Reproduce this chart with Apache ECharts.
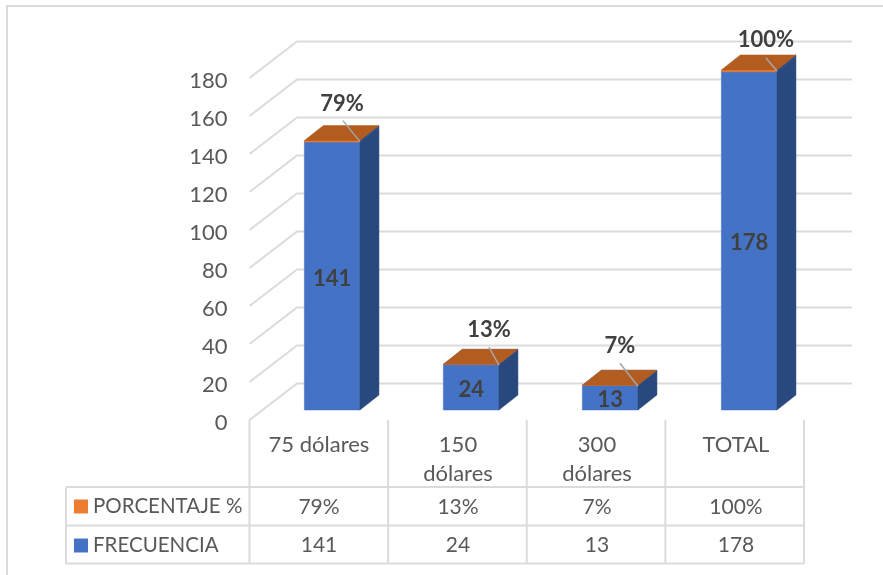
<!DOCTYPE html>
<html><head><meta charset="utf-8">
<style>html,body{margin:0;padding:0;background:#fff}#c{width:883px;height:575px}</style>
<script src="https://cdn.jsdelivr.net/npm/echarts@6/dist/echarts.min.js"></script>
</head><body><div id="c"></div>
<script>
const categories = ['75 dólares', '150\ndólares', '300\ndólares', 'TOTAL'];
const frecuencia = [141, 24, 13, 178];
const porcentaje = [79, 13, 7, 100];
const yTicks = [0, 20, 40, 60, 80, 100, 120, 140, 160, 180];
const rowPorcentajeName = 'PORCENTAJE %';
const rowFrecuenciaName = 'FRECUENCIA';

// layout / style constants
const FONT = 'Lato';
const GRID = {left: 249.5, top: 78, width: 556, height: 342};
const WALL = {dx: 47.5, dy: -36.5};
const BAR = {dx: 19, dy: -15, inX: 13.15, inY: -10, ratio: 0.4};
const TABLE = {left: 66, right: 804, rows: [487, 525.5, 563.5]};
const GRAY = '#DBDBDB';
const TXT = '#595959';
const DARK = '#404040';
// percent-label placement, relative to the bar's front top right corner
const leaderStart = [[-17, -21], [-10, -18], [-18, -23], [-11, -13]];
const labelCenter = [[-18, -38], [-10, -35], [-18, -40], [-11, -31]];

function box(api, xVal, from, to) {
  const w = api.size([1, 0])[0] * BAR.ratio;
  const c = api.coord([xVal, from]);
  const t = api.coord([xVal, to]);
  const x0 = c[0] + BAR.inX - w / 2, x1 = x0 + w;
  return {x0, x1, yb: c[1] + BAR.inY, yt: t[1] + BAR.inY};
}
function poly(points, fill) {
  return {type: 'polygon', shape: {points}, style: {fill, stroke: fill, lineWidth: 0.5}};
}
function prism(b, front, top, side) {
  return [
    poly([[b.x0, b.yb], [b.x1, b.yb], [b.x1, b.yt], [b.x0, b.yt]], front),
    poly([[b.x1, b.yb], [b.x1 + BAR.dx, b.yb + BAR.dy], [b.x1 + BAR.dx, b.yt + BAR.dy], [b.x1, b.yt]], side),
    poly([[b.x0, b.yt], [b.x1, b.yt], [b.x1 + BAR.dx, b.yt + BAR.dy], [b.x0 + BAR.dx, b.yt + BAR.dy]], top)
  ];
}

const tableLines = [];
const line = (x1, y1, x2, y2) => tableLines.push({
  type: 'line', shape: {x1, y1, x2, y2}, style: {stroke: GRAY, lineWidth: 2}, silent: true
});
TABLE.rows.forEach(y => line(TABLE.left, y, TABLE.right, y));
line(TABLE.left, TABLE.rows[0], TABLE.left, TABLE.rows[2]);
categories.concat(['']).forEach((_, i) => {
  const x = GRID.left + (TABLE.right - GRID.left) * i / categories.length;
  line(x, GRID.top + GRID.height, x, TABLE.rows[2]);
});
// outer frame of the picture
tableLines.push({type: 'polyline', shape: {points: [[7, 590], [7, 6], [900, 6]]},
  style: {stroke: GRAY, lineWidth: 2, fill: null}, silent: true});

const option = {
  animation: false,
  backgroundColor: '#fff',
  textStyle: {fontFamily: FONT},
  grid: GRID,
  legend: {
    data: [
      {name: rowPorcentajeName, icon: 'rect'},
      {name: rowFrecuenciaName, icon: 'rect'}
    ],
    orient: 'vertical', left: 74, top: 496, padding: 0, itemWidth: 14, itemHeight: 14, itemGap: 18,
    selectedMode: false,
    textStyle: {fontFamily: FONT, fontSize: 20.5, color: TXT}
  },
  xAxis: {
    type: 'category', data: categories,
    axisLine: {show: false}, axisTick: {show: false},
    axisLabel: {interval: 0, margin: 10, fontFamily: FONT, fontSize: 22, color: TXT, lineHeight: 29, verticalAlign: 'top'}
  },
  yAxis: {
    type: 'value', min: 0, max: 180, interval: 20,
    axisLine: {show: false}, axisTick: {show: false}, splitLine: {show: false},
    axisLabel: {margin: 22, fontFamily: FONT, fontSize: 22, color: TXT, verticalAlign: 'top', lineHeight: 5}
  },
  graphic: tableLines,
  series: [
    {
      type: 'custom', name: 'rejilla', z: 1, silent: true,
      data: yTicks.map(v => [0, v]),
      encode: {x: 0, y: 1},
      renderItem(params, api) {
        const cs = params.coordSys;
        const y = api.coord([0, api.value(1)])[1];
        return {type: 'polyline', shape: {points: [
          [cs.x, y], [cs.x + WALL.dx, y + WALL.dy], [TABLE.right + WALL.dx + 0.5, y + WALL.dy]
        ]}, style: {stroke: GRAY, lineWidth: 2, fill: null}};
      }
    },
    {
      type: 'custom', name: rowFrecuenciaName, z: 3, silent: true,
      itemStyle: {color: '#4472C4'},
      data: frecuencia.map((v, i) => [i, v]),
      encode: {x: 0, y: 1},
      renderItem(params, api) {
        const b = box(api, api.value(0), 0, api.value(1));
        const children = prism(b, '#4472C4', '#4472C4', '#29487D');
        children.push({type: 'text', style: {
          text: String(api.value(1)), x: (b.x0 + b.x1) / 2, y: (b.yb + b.yt) / 2 + 2.5,
          align: 'center', verticalAlign: 'middle',
          font: 'bold 22px ' + FONT, fill: DARK
        }});
        return {type: 'group', children};
      }
    },
    {
      type: 'custom', name: rowPorcentajeName, z: 4, silent: true,
      itemStyle: {color: '#ED7D31'},
      data: porcentaje.map((v, i) => [i, frecuencia[i], v / 100]),
      encode: {x: 0, y: 1},
      renderItem(params, api) {
        const i = params.dataIndex;
        const b = box(api, api.value(0), api.value(1), api.value(1) + api.value(2));
        const children = prism(b, '#ED7D31', '#B35C20', '#29487D');
        const cx = b.x1, cy = b.yt + 1;
        children.push({type: 'line', shape: {
          x1: cx + leaderStart[i][0], y1: cy + leaderStart[i][1], x2: cx, y2: cy
        }, style: {stroke: '#A6A6A6', lineWidth: 1.5}});
        children.push({type: 'text', style: {
          text: Math.round(api.value(2) * 100) + '%',
          x: cx + labelCenter[i][0], y: cy + labelCenter[i][1],
          align: 'center', verticalAlign: 'middle',
          font: 'bold 22px ' + FONT, fill: DARK
        }});
        return {type: 'group', children};
      }
    },
    {
      type: 'custom', name: 'tabla', z: 5, silent: true,
      data: categories.map((c, i) => [i, porcentaje[i], frecuencia[i]]),
      encode: {x: 0},
      renderItem(params, api) {
        const x = api.coord([api.value(0), 0])[0];
        const rowY = r => (TABLE.rows[r] + TABLE.rows[r + 1]) / 2;
        const cell = (t, r) => ({type: 'text', style: {
          text: t, x, y: rowY(r) + 0.5, align: 'center', verticalAlign: 'middle',
          font: '21px ' + FONT, fill: TXT
        }});
        return {type: 'group', children: [cell(api.value(1) + '%', 0), cell(String(api.value(2)), 1)]};
      }
    }
  ]
};
const chart = echarts.init(document.getElementById('c'), null, {renderer: 'canvas'});
chart.setOption(option);
</script></body></html>
